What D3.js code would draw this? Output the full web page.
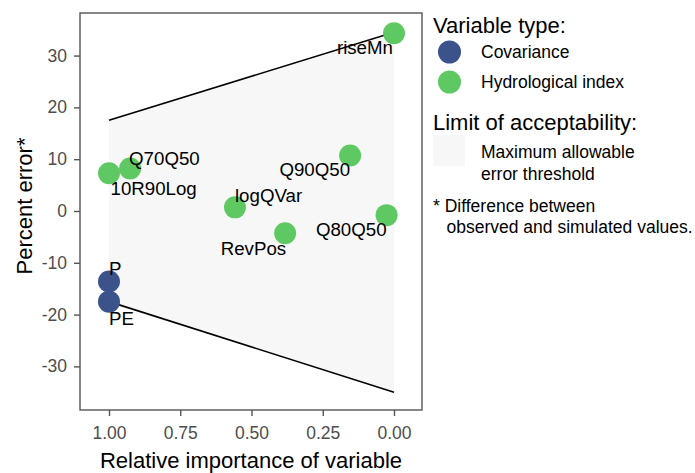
<!DOCTYPE html>
<html><head><meta charset="utf-8">
<script src="https://cdn.jsdelivr.net/npm/d3@7/dist/d3.min.js"></script>
<style>
html,body{margin:0;padding:0;background:#fff;}
text{font-family:"Liberation Sans",Arial,sans-serif;}
</style></head>
<body>
<script>
// ---- data ----
const names = ["riseMn","Q90Q50","Q80Q50","RevPos","logQVar","Q70Q50","10R90Log","P","PE"];
const importance = [0.00, 0.154, 0.026, 0.382, 0.558, 0.926, 1.00, 1.00, 1.00];
const percentError = [34.3, 10.7, -0.8, -4.3, 0.7, 8.2, 7.3, -13.6, -17.5];
const varType = ["Hydrological index","Hydrological index","Hydrological index","Hydrological index","Hydrological index","Hydrological index","Hydrological index","Covariance","Covariance"];
const thresholdX = [1.00, 0.00];
const thresholdUpper = [17.5, 34.5];
const thresholdLower = [-17.5, -35.0];
const xTicks = [1.00, 0.75, 0.50, 0.25, 0.00];
const yTicks = [-30, -20, -10, 0, 10, 20, 30];
const typeLevels = ["Covariance","Hydrological index"];
const typeColors = ["#3b528b","#5ec962"];

// ---- layout (label placement, pixels) ----
const labelLayout = {
  "riseMn":   {dx:-1, dy:21, anchor:"end"},
  "Q90Q50":   {dx:0,  dy:20, anchor:"end"},
  "Q80Q50":   {dx:0,  dy:21, anchor:"end"},
  "RevPos":   {dx:1,  dy:22, anchor:"end"},
  "logQVar":  {dx:0,  dy:-5, anchor:"start"},
  "Q70Q50":   {dx:-1, dy:-4, anchor:"start"},
  "10R90Log": {dx:1.5,dy:22, anchor:"start"},
  "P":        {dx:0,  dy:-6.5, anchor:"start"},
  "PE":       {dx:0,  dy:23, anchor:"start"}
};

const W = 695, H = 473;
const panel = {left:80, right:422, top:13, bottom:410};

const svg = d3.select("body").append("svg").attr("width",W).attr("height",H);

const x = d3.scaleLinear().domain([1.10175, -0.09825]).range([panel.left, panel.right]);
const y = d3.scaleLinear().domain([-38.42, 38.22]).range([panel.bottom, panel.top]);
const color = d3.scaleOrdinal().domain(typeLevels).range(typeColors);

// ribbon
const band = thresholdX.map((v,i)=>({x:v, lo:thresholdLower[i], hi:thresholdUpper[i]}));
svg.append("path").datum(band)
  .attr("d", d3.area().x(d=>x(d.x)).y0(d=>y(d.lo)).y1(d=>y(d.hi)))
  .attr("fill","#f7f7f7");
const lineGen = d3.line().x(d=>x(d.x)).y(d=>y(d.v));
svg.append("path").datum(thresholdX.map((v,i)=>({x:v,v:thresholdUpper[i]})))
  .attr("d", lineGen).attr("fill","none").attr("stroke","#000").attr("stroke-width",1.6);
svg.append("path").datum(thresholdX.map((v,i)=>({x:v,v:thresholdLower[i]})))
  .attr("d", lineGen).attr("fill","none").attr("stroke","#000").attr("stroke-width",1.6);

// points
const pts = names.map((n,i)=>({name:n, x:importance[i], y:percentError[i], type:varType[i]}));
svg.append("g").selectAll("circle").data(pts).join("circle")
  .attr("cx",d=>x(d.x)).attr("cy",d=>y(d.y)).attr("r",11)
  .attr("fill",d=>color(d.type));

// labels
svg.append("g").selectAll("text").data(pts).join("text")
  .attr("x",d=>x(d.x)+labelLayout[d.name].dx)
  .attr("y",d=>y(d.y)+labelLayout[d.name].dy)
  .attr("text-anchor",d=>labelLayout[d.name].anchor)
  .attr("font-size","18.7px").attr("fill","#000")
  .text(d=>d.name);

// panel border
svg.append("rect").attr("x",panel.left).attr("y",panel.top)
  .attr("width",panel.right-panel.left).attr("height",panel.bottom-panel.top)
  .attr("fill","none").attr("stroke","#555").attr("stroke-width",1.4);

// axes
const xAxis = svg.append("g").attr("transform",`translate(0,${panel.bottom})`)
  .call(d3.axisBottom(x).tickValues(xTicks).tickFormat(d3.format(".2f")).tickSize(6).tickPadding(11));
const yAxis = svg.append("g").attr("transform",`translate(${panel.left},0)`)
  .call(d3.axisLeft(y).tickValues(yTicks).tickFormat(d=>String(d)).tickSize(6).tickPadding(7));
[xAxis,yAxis].forEach(a=>{
  a.select(".domain").remove();
  a.selectAll(".tick line").attr("stroke","#555").attr("stroke-width",1.4);
  a.selectAll(".tick text").attr("fill","#4d4d4d").attr("font-size","17.5px")
    .attr("font-family",'"Liberation Sans",Arial,sans-serif');
});

// axis titles
svg.append("text").attr("x",(panel.left+panel.right)/2).attr("y",468)
  .attr("text-anchor","middle").attr("font-size","22px").attr("fill","#000")
  .text("Relative importance of variable");
svg.append("text").attr("transform","translate(32,206) rotate(-90)")
  .attr("text-anchor","middle").attr("font-size","22px").attr("fill","#000")
  .text("Percent error*");

// legend
const lg = svg.append("g");
lg.append("text").attr("x",433).attr("y",33).attr("font-size","22px").text("Variable type:");
typeLevels.forEach((t,i)=>{
  lg.append("circle").attr("cx",449.5).attr("cy",52+i*30).attr("r",11.5).attr("fill",color(t));
  lg.append("text").attr("x",481).attr("y",58.3+i*30).attr("font-size","17.5px").text(t);
});
lg.append("text").attr("x",433).attr("y",130).attr("font-size","22px").text("Limit of acceptability:");
lg.append("rect").attr("x",433).attr("y",135).attr("width",32).attr("height",31).attr("fill","#f7f7f7");
lg.append("text").attr("x",481).attr("y",158.3).attr("font-size","17.5px").text("Maximum allowable");
lg.append("text").attr("x",481).attr("y",180).attr("font-size","17.5px").text("error threshold");
lg.append("text").attr("x",433).attr("y",211.5).attr("font-size","17.5px").text("* Difference between");
lg.append("text").attr("x",446.5).attr("y",233).attr("font-size","17.5px").text("observed and simulated values.");
</script>
</body></html>
